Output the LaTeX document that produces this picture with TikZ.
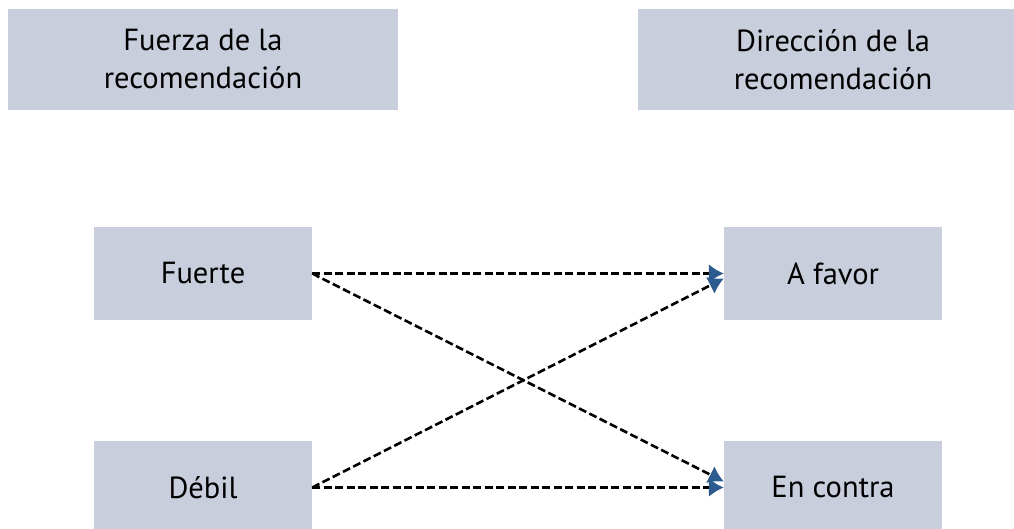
\documentclass[tikz,border=0pt]{standalone}
\usepackage{fontspec}
\setmainfont{PT Sans}
\usetikzlibrary{arrows.meta,positioning}
\definecolor{boxgray}{HTML}{C8CEDC}
\definecolor{tipblue}{HTML}{2E5B8E}
\newcommand{\dashedarrow}{-{Latex[length=15pt,width=19pt,color=tipblue]}}
\tikzset{%
  % Specifications for style of nodes:
            base/.style = {rectangle, fill=boxgray, inner sep=0pt,
                           text centered, font=\fontsize{30.5}{38}\selectfont},
		headstyle/.style = {base, minimum width=390pt, minimum height=101pt,
                           align=center},
		itemstyle/.style = {base, minimum width=218pt, minimum height=93pt},
		link/.style = {dash pattern=on 8pt off 3.5pt, line width=2.6pt},
}

\begin{document}
\begin{tikzpicture}[x=1pt, y=-1pt, node distance=214pt]
  \useasboundingbox (0,0) rectangle (1014,529);
  % Specification of nodes (position, etc.)
  \node (fuerza)	[headstyle] at (203,59.5)			{Fuerza de la\\recomendación};
  \node (direccion)	[headstyle, right of=fuerza, xshift=416pt]	{Dirección de la\\recomendación};
  \node (fuerte)	[itemstyle, below of=fuerza]			{Fuerte};
  \node (debil)		[itemstyle, below of=fuerte]			{Débil};
  \node (afavor)	[itemstyle, below of=direccion]			{A favor};
  \node (encontra)	[itemstyle, below of=afavor]			{En contra};

  % Specification of lines between nodes specified above
	\draw[link, \dashedarrow]	(fuerte.east) -- 	(afavor.west);
	\draw[link, \dashedarrow]	(fuerte.east) -- 	([yshift=6pt]encontra.west);
	\draw[link, \dashedarrow]	(debil.east) -- 	([yshift=-5pt]afavor.west);
	\draw[link, \dashedarrow]	(debil.east) -- 	(encontra.west);
\end{tikzpicture}
\end{document}
